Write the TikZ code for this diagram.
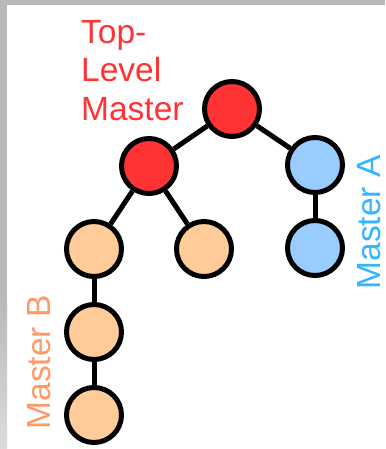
\documentclass[tikz,border=0pt]{standalone}
\usepackage{fontspec}
\setmainfont{Liberation Sans}
\definecolor{redfill}{HTML}{FF3333}
\definecolor{orangefill}{HTML}{FFCC99}
\definecolor{bluefill}{HTML}{99CCFF}
\definecolor{orangetext}{HTML}{FF9966}
\definecolor{bluetext}{HTML}{33B5FF}
\definecolor{frame}{HTML}{B9B9B9}
\definecolor{framelight}{HTML}{DCDCDC}
\begin{document}
\begin{tikzpicture}[x=1pt,y=-1pt,
  tnode/.style={circle, draw=black, line width=5pt, minimum size=55pt, inner sep=0pt},
  redn/.style={tnode, fill=redfill},
  orn/.style={tnode, fill=orangefill},
  blun/.style={tnode, fill=bluefill},
  edge/.style={draw=black, line width=5pt},
  lbl/.style={inner sep=0pt, font=\fontsize{33.5}{38.5}\selectfont}
]
\useasboundingbox (0,0) rectangle (385,449);
\fill[white] (0,0) rectangle (385,449);
% frame bands
\fill[frame] (0,0) rectangle (385,5);
\fill[frame] (0,0) rectangle (7,300);
\shade[top color=frame, bottom color=framelight] (0,300) rectangle (7,449);
% nodes
\node[redn] (r0) at (232,109) {};
\node[redn] (r1) at (149,166) {};
\node[blun] (a1) at (315,165) {};
\node[blun] (a2) at (315,248) {};
\node[orn] (b1) at (94,249) {};
\node[orn] (c1) at (204,249) {};
\node[orn] (b2) at (94,332) {};
\node[orn] (b3) at (94,415) {};
% edges
\draw[edge] (r0) -- (r1);
\draw[edge] (r0) -- (a1);
\draw[edge] (r1) -- (b1);
\draw[edge] (r1) -- (c1);
\draw[edge] (b1) -- (b2);
\draw[edge] (b2) -- (b3);
\draw[edge] (a1) -- (a2);
% labels
\node[lbl, text=redfill, anchor=north west, align=left] (tl) at (81,20) {Top-\\Level\\Master};
\node[lbl, text=bluetext, rotate=90, anchor=base west] (ma) at (380.5,289.5) {Master A};
\node[lbl, text=orangetext, rotate=90, anchor=base west] (mb) at (50,429.5) {Master B};
\end{tikzpicture}
\end{document}
